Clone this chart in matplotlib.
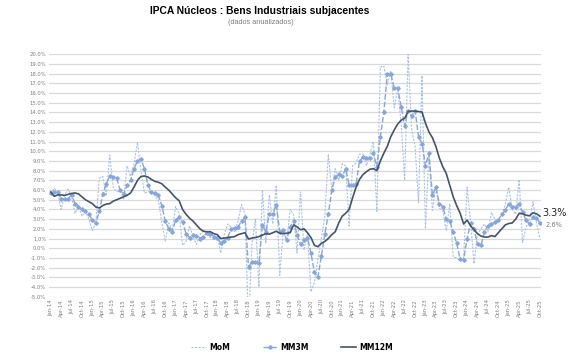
import numpy as np
import pandas as pd
import matplotlib
matplotlib.use("Agg")
import matplotlib.pyplot as plt

# ---------------- data (annualized %, monthly Jan-14 .. Oct-25) ----------------
months = pd.date_range("2014-01-01", "2025-10-01", freq="MS")

mom = [
    5.6, 6.2, 5.8, 4.0, 5.5, 6.1, 5.3, 3.6, 4.3, 3.3, 3.8, 3.0,
    1.8, 2.6, 7.2, 7.4, 5.4, 9.6, 6.3, 5.8, 5.9, 5.1, 8.5, 7.4,
    8.7, 10.9, 8.0, 5.7, 5.8, 5.9, 5.4, 5.0, 2.7, 0.7, 2.6, 1.8,
    4.3, 3.5, 0.3, 0.7, 2.3, 1.2, 0.4, 1.4, 1.8, 1.6, 1.1, 0.9,
    1.3, -0.5, 1.4, 2.5, 2.2, 1.7, 2.8, 4.5, 3.5, -8.0, 0.5, 3.0,
    -4.0, 6.0, 0.5, 5.5, 2.5, 6.5, -2.8, 1.8, 0.8, 4.0, 3.5, -0.5,
    5.8, -0.2, 1.5, -4.5, -3.5, -1.2, 1.0, 3.3, 9.7, 6.0, 8.2, 7.0,
    8.7, 8.5, 2.3, 8.5, 8.8, 9.7, 9.7, 8.5, 9.7, 11.0, 3.8, 18.7,
    18.8, 16.8, 18.3, 14.5, 16.5, 12.8, 7.0, 20.0, 12.3, 10.5, 4.7, 17.8,
    2.0, 9.8, 3.9, 6.3, 4.1, 3.9, 1.8, 4.6, -0.9, -1.0, -1.3, -1.0,
    6.3, 2.7, -1.6, 1.5, 2.0, 2.5, 1.7, 3.7, 3.0, 2.8, 3.5, 4.5,
    6.3, 4.0, 3.5, 7.1, 0.6, 2.2, 2.8, 4.8, 2.6, 1.0,
]

mm3m = [
    5.7, 5.8, 5.8, 5.1, 5.1, 5.1, 5.5, 4.6, 4.3, 4.0, 3.8, 3.5,
    2.9, 2.6, 3.8, 5.6, 6.6, 7.5, 7.3, 7.2, 6.0, 5.6, 6.5, 7.0,
    8.2, 9.0, 9.2, 8.2, 6.5, 5.8, 5.7, 5.5, 4.4, 2.8, 2.0, 1.7,
    2.9, 3.2, 2.7, 1.5, 1.1, 1.4, 1.3, 1.0, 1.2, 1.6, 1.5, 1.2,
    1.1, 0.55, 0.7, 1.1, 2.0, 2.1, 2.2, 2.8, 3.2, -1.9, -1.4, -1.4,
    -1.5, 2.4, 1.7, 3.5, 3.5, 4.5, 1.7, 1.9, 0.85, 2.2, 2.8, 1.4,
    0.4, 0.8, 1.1, -0.5, -2.5, -3.0, -0.8, 1.5, 3.5, 6.0, 7.3, 7.7,
    7.4, 8.2, 6.5, 6.5, 6.6, 9.0, 9.4, 9.3, 9.3, 9.8, 8.4, 11.5,
    14.0, 18.0, 18.0, 16.5, 16.5, 14.6, 12.6, 14.2, 13.6, 14.2, 11.5, 10.8,
    8.5, 9.8, 5.5, 6.3, 4.6, 4.3, 3.0, 2.8, 1.7, 0.5, -1.1, -1.2,
    1.0, 2.6, 2.0, 0.4, 0.3, 1.7, 2.3, 2.5, 2.7, 2.9, 3.5, 3.9,
    4.6, 4.3, 4.3, 4.6, 3.7, 2.9, 2.5, 3.2, 3.1, 2.6,
]

mm12m = [
    5.8, 5.35, 5.5, 5.5, 5.45, 5.55, 5.65, 5.7, 5.6, 5.3, 5.0, 4.8,
    4.6, 4.25, 4.15, 4.4, 4.55, 4.6, 4.85, 5.0, 5.15, 5.3, 5.45, 5.7,
    6.3, 7.0, 7.4, 7.45, 7.35, 7.1, 6.9, 6.8, 6.65, 6.3, 6.0, 5.6,
    5.2, 4.9, 4.0, 3.5, 3.1, 2.8, 2.4, 2.0, 1.75, 1.7, 1.7, 1.5,
    1.4, 1.0, 1.05, 1.1, 1.15, 1.2, 1.4, 1.5, 1.6, 0.95, 1.05, 1.1,
    1.2, 1.35, 1.5, 1.45, 1.6, 1.75, 1.55, 1.5, 1.55, 1.6, 2.4, 2.2,
    1.9, 2.0, 1.6, 1.1, 0.3, 0.15, 0.5, 0.7, 1.0, 1.4, 1.7, 2.6,
    3.3, 3.6, 4.0, 5.2, 6.3, 7.1, 7.6, 7.9, 8.15, 8.2, 8.0, 9.0,
    9.8, 10.5, 11.5, 12.2, 12.8, 13.2, 13.4, 14.1, 14.15, 14.15, 14.1, 14.05,
    12.9, 12.0, 11.4, 10.5, 9.3, 8.4, 7.7, 6.5, 5.3, 4.4, 3.6, 2.5,
    2.9, 2.3, 1.9, 1.5, 1.25, 1.15, 1.15, 1.3, 1.2, 1.6, 2.0, 2.4,
    2.55, 2.6, 3.0, 3.6, 3.55, 3.4, 3.35, 3.65, 3.55, 3.3,
]

series_names = ["MoM", "MM3M", "MM12M"]
title = "IPCA Núcleos : Bens Industriais subjacentes"
subtitle = "(dados anualizados)"

# ---------------- plot ----------------
plt.rcParams["font.family"] = ["DejaVu Sans"]
fig = plt.figure(figsize=(5.82, 3.62), dpi=100)
ax = fig.add_axes([49 / 582, 1 - 296.7 / 362, (541 - 49) / 582, (296.7 - 54.3) / 362])

x = np.arange(len(months))

c_mom = "#a9c2ea"
c_mm3 = "#86a6dc"
c_mm12 = "#44546a"

ax.plot(x, mom, color=c_mom, lw=0.8, ls=(0, (2, 1.2)), label=series_names[0], zorder=2)
ax.plot(x, mm3m, color=c_mm3, lw=1.0, ls=(0, (4, 1.5)), marker="D", ms=1.8,
        mec=c_mm3, mfc=c_mm3, label=series_names[1], zorder=3)
ax.plot(x, mm12m, color=c_mm12, lw=1.2, label=series_names[2], zorder=4)

ax.set_xlim(-0.5, len(months) - 0.7)
ax.set_ylim(-5, 20)
ax.set_yticks(np.arange(-5, 21, 1))
ax.set_yticklabels([f"{v:.1f}%" for v in np.arange(-5, 21, 1)], fontsize=3.8, color="#7f7f7f")
ax.grid(axis="y", color="#d9d9d9", lw=0.9)
ax.set_axisbelow(True)

tick_pos = x[::3]
ax.set_xticks(tick_pos)
ax.set_xticklabels([m.strftime("%b-%y") for m in months[::3]], rotation=90,
                   fontsize=3.8, color="#7f7f7f")
ax.tick_params(axis="both", length=0, pad=2)
for s in ax.spines.values():
    s.set_visible(False)

# end labels
ax.annotate(f"{mm12m[-1]:.1f}%", xy=(x[-1], mm12m[-1]), xytext=(2, 2),
            textcoords="offset points", fontsize=7, color="#222222",
            va="center", ha="left", annotation_clip=False)
ax.annotate(f"{mm3m[-1]:.1f}%", xy=(x[-1], mm3m[-1]), xytext=(4, -1.5),
            textcoords="offset points", fontsize=4.8, color="#7f7f7f",
            va="center", ha="left", annotation_clip=False)

fig.text(260 / 582, 1 - 11 / 362, title, ha="center", va="center",
         fontsize=7.4, fontweight="bold", color="#000000", family="Liberation Sans")
fig.text(261 / 582, 1 - 22 / 362, subtitle, ha="center", va="center",
         fontsize=5.3, color="#7f7f7f", family="Liberation Sans")

leg = fig.legend(loc="center", bbox_to_anchor=(292 / 582, 1 - 347 / 362), ncol=3,
                 frameon=False, fontsize=5.5, handlelength=1.9, columnspacing=4.3,
                 handletextpad=0.4)
for t in leg.get_texts():
    t.set_fontweight("bold")

fig.savefig("out.png", dpi=100)
